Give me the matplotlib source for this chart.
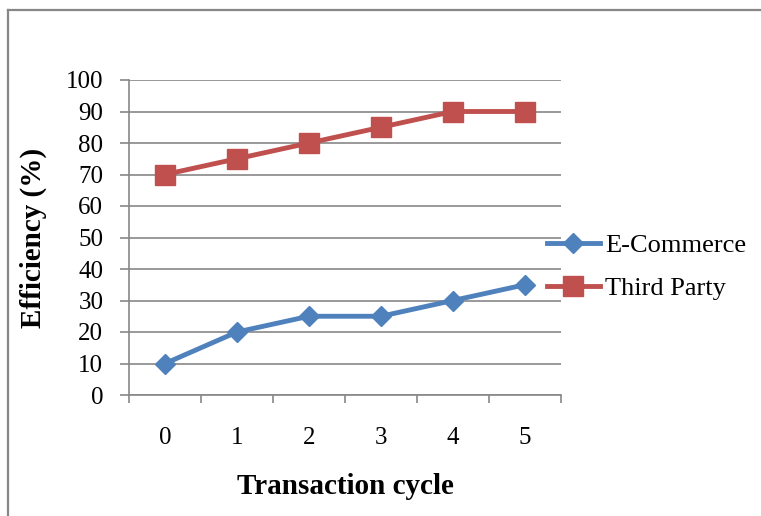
import matplotlib
matplotlib.use("Agg")
import matplotlib.pyplot as plt
from matplotlib.lines import Line2D

cycles = [0, 1, 2, 3, 4, 5]
ecommerce = [10, 20, 25, 25, 30, 35]
third_party = [70, 75, 80, 85, 90, 90]
yticks = list(range(0, 101, 10))

plt.rcParams["font.family"] = ["Liberation Serif", "DejaVu Serif"]

W, H = 761, 516
fig = plt.figure(figsize=(W / 100, H / 100), dpi=100)

# outer chart frame
fx0, fy1 = 8 / W, 1 - 10 / H
fig.add_artist(Line2D([fx0, fx0], [-0.1, fy1], transform=fig.transFigure,
                      color="#878787", lw=1.6))
fig.add_artist(Line2D([fx0, 1.1], [fy1, fy1], transform=fig.transFigure,
                      color="#878787", lw=1.6))

ax = fig.add_axes([129 / W, 1 - 395 / H, (561 - 129) / W, (395 - 80) / H])

gray = "#878787"
ax.plot(cycles, ecommerce, color="#4F81BD", lw=3.5, marker="D", ms=10.5,
        label="E-Commerce", zorder=3)
ax.plot(cycles, third_party, color="#C0504D", lw=3.5, marker="s", ms=14,
        label="Third Party", zorder=3)

ax.set_xlim(-0.5, 5.5)
ax.set_ylim(0, 100)
ax.set_yticks(yticks)
ax.set_yticklabels([str(v) for v in yticks])
ax.yaxis.grid(True, color=gray, lw=1.2)
ax.set_axisbelow(True)

ax.set_xticks([c - 0.5 for c in cycles] + [cycles[-1] + 0.5])
ax.set_xticklabels([])
ax.set_xticks(cycles, minor=True)
ax.set_xticklabels([str(c) for c in cycles], minor=True)
ax.tick_params(axis="x", which="major", length=6, width=1.2, color=gray,
               direction="out")
ax.tick_params(axis="x", which="minor", length=0, pad=23, labelsize=18)
ax.tick_params(axis="y", length=6.5, width=1.2, color=gray, pad=12,
               labelsize=18)

for s in ["top", "right"]:
    ax.spines[s].set_visible(False)
for s in ["left", "bottom"]:
    ax.spines[s].set_color(gray)
    ax.spines[s].set_linewidth(1.2)

fig.text(345 / W, 1 - 487 / H, "Transaction cycle", ha="center", va="center",
         fontsize=21, fontweight="bold")
fig.text(33 / W, 1 - 238 / H, "Efficiency (%)", ha="center", va="center",
         rotation=90, fontsize=21, fontweight="bold")

fig.legend(loc="center left", bbox_to_anchor=(547 / W, 1 - 267 / H),
           frameon=False, fontsize=19, handlelength=2.0, handletextpad=0.19,
           labelspacing=0.75, borderaxespad=0, borderpad=0)

fig.savefig("out.png", dpi=100)
